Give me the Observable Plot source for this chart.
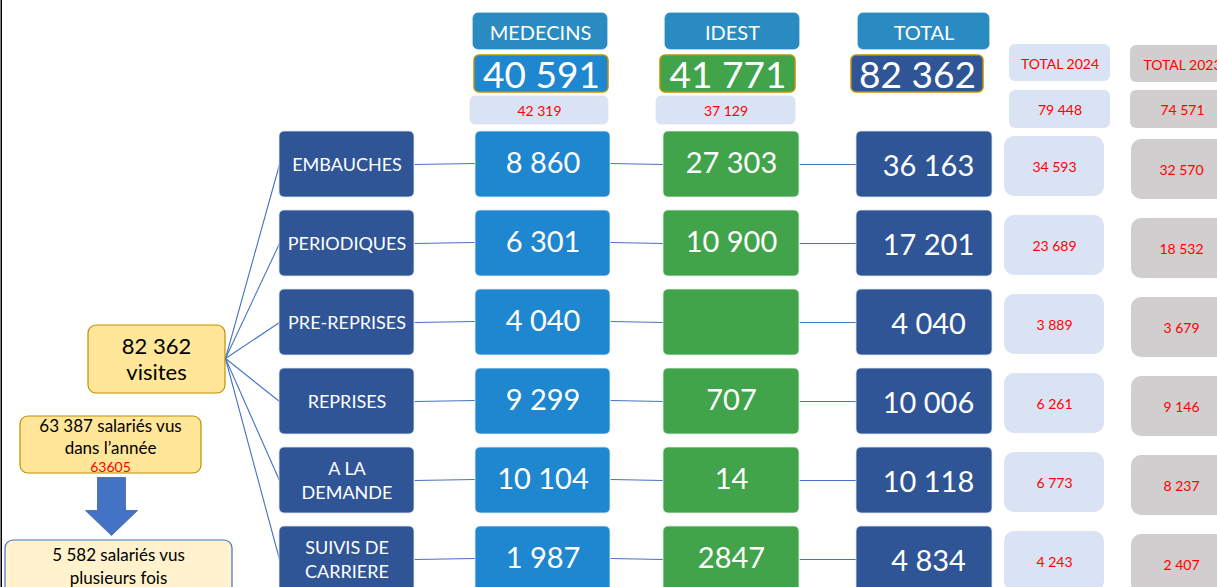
<!DOCTYPE html>
<html><head><meta charset="utf-8">
<script src="https://cdn.jsdelivr.net/npm/d3@7"></script>
<script src="https://cdn.jsdelivr.net/npm/@observablehq/plot@0.6"></script>
<style>html,body{margin:0;padding:0;background:#fff;overflow:hidden}</style>
</head><body><div id="chart"></div>
<script>
// ---- data ----
const categories = ["EMBAUCHES", "PERIODIQUES", "PRE-REPRISES", "REPRISES", "A LA\nDEMANDE", "SUIVIS DE\nCARRIERE"];
const medecins = [8860, 6301, 4040, 9299, 10104, 1987];
const idest = [27303, 10900, null, 707, 14, 2847];
const idestGrouped = [true, true, true, true, true, false];
const total = [36163, 17201, 4040, 10006, 10118, 4834];
const total2024 = [34593, 23689, 3889, 6261, 6773, 4243];
const total2023 = [32570, 18532, 3679, 9146, 8237, 2407];
const headers = ["MEDECINS", "IDEST", "TOTAL"];
const headerTotals = [40591, 41771, 82362];
const headerPrev = [42319, 37129, null];
const prevHeaders = ["TOTAL 2024", "TOTAL 2023"];
const prevTotals = [79448, 74571];
const visites = 82362;
const salariesVus = 63387;
const salariesVusPrev = "63605";
const salariesPlusieurs = 5582;

// ---- helpers ----
const fmt = (v, grouped = true) => v == null ? "" : grouped ? String(v).replace(/\B(?=(\d{3})+(?!\d))/g, " ") : String(v);
const W = 1217, H = 587;
const rowTop = i => 131 + i * 79, rowH = 66;
const cols = {
  cat: [279, 414], med: [475, 610], idest: [663, 799], tot: [856, 992],
  t24: [1004, 1104], t23: [1131, 1232]
};
const C = {cat: "#2f5597", med: "#1f87d0", idest: "#41a44b", tot: "#2f5597", head: "#2a8bc1",
  light: "#dae3f3", grey: "#d0cece", red: "#ff0000", gold: "#bf9000", yellow: "#ffe699", cream: "#fff2cc", link: "#4472c4"};

const boxes = [], texts = [], links = [];
function box(x1, x2, y1, y2, fill, stroke, sw, rx) { boxes.push({x1, x2, y1, y2, fill, stroke: stroke || fill, sw: sw || 1, rx: rx == null ? 5 : rx}); }
function text(x, y, t, fill, size, lh) { texts.push({x, y, t, fill, size, lh: lh || 1.15}); }

// rows
categories.forEach((c, i) => {
  const y1 = rowTop(i), y2 = y1 + rowH, yc = y1 + rowH / 2;
  const cx = k => (cols[k][0] + cols[k][1]) / 2;
  box(cols.cat[0], cols.cat[1], y1, y2, C.cat, "#dfe6f2", 0.6);
  text(cx("cat"), yc - 1, c, "#fff", 18, 1.3);
  box(cols.med[0], cols.med[1], y1, y2, C.med, "#e3eef8", 0.6);
  text(cx("med"), yc - 2, fmt(medecins[i]), "#fff", 29);
  box(cols.idest[0], cols.idest[1], y1, y2, C.idest, "#e3f0e3", 0.6);
  text(cx("idest"), yc - 2, fmt(idest[i], idestGrouped[i]), "#fff", 29);
  box(cols.tot[0], cols.tot[1], y1, y2, C.tot, "#dfe6f2", 0.6);
  text(cx("tot") + 4, yc + 1, fmt(total[i]), "#fff", 29);
  box(cols.t24[0], cols.t24[1], y1 + 5, y2 - 1, C.light, null, 1, 9);
  text(cx("t24"), yc + 2, fmt(total2024[i]), C.red, 14);
  box(cols.t23[0], cols.t23[1], y1 + 8, y2 + 2, C.grey, null, 1, 9);
  text(cols.t23[0] + 50, yc + 5, fmt(total2023[i]), C.red, 14);
  // links
  links.push({x1: 225, y1: 358, x2: cols.cat[0], y2: yc});
  links.push({x1: cols.cat[1], y1: yc, x2: cols.med[0], y2: yc - 1});
  links.push({x1: cols.med[1], y1: yc - 1, x2: cols.idest[0], y2: yc});
  links.push({x1: cols.idest[1], y1: yc, x2: cols.tot[0], y2: yc});
});

// headers
const headCols = [[473, 607], [665, 799], [858, 989]];
const numCols = [[474, 608], [660, 795], [851, 983]];
const numFill = [C.med, C.idest, C.tot];
headers.forEach((h, j) => {
  const [a, b] = headCols[j];
  box(a, b, 13, 49, C.head, null, 1, 5);
  text((a + b) / 2, 32, h, "#fff", 20);
  const [c, d] = numCols[j];
  box(c, d, 55, 92, numFill[j], C.gold, 1.5, 5);
  text((c + d) / 2, 74, fmt(headerTotals[j]), "#fff", 37);
  if (headerPrev[j] != null) {
    box(c - 4, d, 96, 124, C.light, null, 1, 5);
    text((c - 4 + d) / 2, 110, fmt(headerPrev[j]), C.red, 14);
  }
});
const prevCols = [[1009, 1110, C.light], [1130, 1232, C.grey]];
prevHeaders.forEach((h, j) => {
  const [a, b, f] = prevCols[j];
  box(a, b, 44 + j, 81 + j, f, null, 1, 6);
  text(j ? a + 52 : (a + b) / 2, 63 + j, h, C.red, 14);
  box(a, b, 90, 128, f, null, 1, 6);
  text(j ? a + 52 : (a + b) / 2, 109, fmt(prevTotals[j]), C.red, 14);
});

// left side
box(88, 225, 325, 393, C.yellow, C.gold, 1.2, 8);
text(156, 358, fmt(visites) + "\nvisites", "#000", 22, 1.2);
box(20, 201, 416, 473, C.yellow, C.gold, 1.2, 8);
text(110, 435, fmt(salariesVus) + " salariés vus\ndans l’année", "#000", 17, 1.3);
text(110, 466, salariesVusPrev, C.red, 14);
box(5, 232, 540, 605, C.cream, C.link, 1.2, 8);
text(118, 565, fmt(salariesPlusieurs) + " salariés vus\nplusieurs fois", "#000", 17, 1.35);

// arrow polygon (from layout)
const ax = 111, aTop = 477, aNeck = 510, aTip = 535, shaft = 14, head = 26;
const arrow = [[ax - shaft, aTop], [ax + shaft, aTop], [ax + shaft, aNeck], [ax + head, aNeck], [ax, aTip], [ax - head, aNeck], [ax - shaft, aNeck], [ax - shaft, aTop]];

const textMarks = [...new Set(texts.map(d => d.lh))].map(lh =>
  Plot.text(texts.filter(d => d.lh === lh), {x: "x", y: "y", text: "t", fill: "fill", fontSize: "size", lineHeight: lh}));

const chart = Plot.plot({
  width: W, height: H, margin: 0,
  x: {domain: [0, W], range: [0, W], axis: null},
  y: {domain: [0, H], range: [0, H], axis: null},
  color: {type: "identity"},
  style: {fontFamily: "Lato, 'Open Sans', sans-serif", background: "#fff", overflow: "visible"},
  marks: [
    Plot.link(links, {x1: "x1", y1: "y1", x2: "x2", y2: "y2", stroke: C.link, strokeWidth: 1.1}),
    Plot.rect(boxes.filter(d => d.rx === 5 && d.sw !== 1.5), {x1: "x1", x2: "x2", y1: "y1", y2: "y2", fill: "fill", stroke: "stroke", strokeWidth: 0.8, rx: 5}),
    Plot.rect(boxes.filter(d => d.rx === 6), {x1: "x1", x2: "x2", y1: "y1", y2: "y2", fill: "fill", rx: 6}),
    Plot.rect(boxes.filter(d => d.rx === 9), {x1: "x1", x2: "x2", y1: "y1", y2: "y2", fill: "fill", rx: 10}),
    Plot.rect(boxes.filter(d => d.rx === 8), {x1: "x1", x2: "x2", y1: "y1", y2: "y2", fill: "fill", stroke: "stroke", strokeWidth: 1.2, rx: 8}),
    Plot.rect(boxes.filter(d => d.sw === 1.5), {x1: "x1", x2: "x2", y1: "y1", y2: "y2", fill: "fill", stroke: "stroke", strokeWidth: 1.5, rx: 5}),
    Plot.line(arrow, {x: d => d[0], y: d => d[1], fill: C.link, stroke: "#3a65b0", strokeWidth: 0.8}),
    ...textMarks,
    Plot.ruleX([0.75], {stroke: "#000", strokeWidth: 1.5})
  ]
});
document.getElementById("chart").appendChild(chart);
</script>
</body></html>
